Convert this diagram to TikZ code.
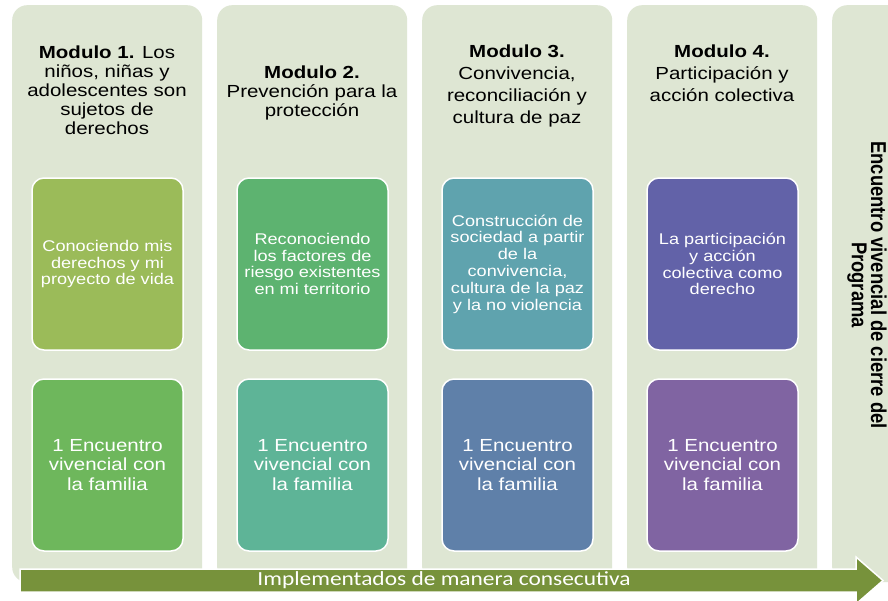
\documentclass[tikz,border=0pt]{standalone}
\usepackage{fontspec}
\setmainfont[FakeStretch=1.17]{Liberation Sans}
\newfontfamily\arrowfont[FakeStretch=1.17]{Carlito}
\newfontfamily\plainsans{Liberation Sans}
\definecolor{colbg}{HTML}{DEE6D3}
\definecolor{ca}{HTML}{9BBB59}
\definecolor{cb}{HTML}{6EB75C}
\definecolor{cc}{HTML}{5DB370}
\definecolor{cd}{HTML}{5EB497}
\definecolor{ce}{HTML}{5FA3AE}
\definecolor{cf}{HTML}{5F80A9}
\definecolor{cg}{HTML}{6262A8}
\definecolor{ch}{HTML}{8064A2}
\definecolor{arrowgreen}{HTML}{77923B}
\tikzset{
  column/.style={fill=colbg, rounded corners=15pt, minimum width=190pt, minimum height=577pt, anchor=north west, inner sep=0pt},
  modbox/.style={draw=white, line width=1.5pt, rounded corners=12pt, minimum width=151pt, minimum height=172pt, inner sep=0pt, align=center, text=white},
  smalltxt/.style={font=\fontsize{15.5}{16.8}\selectfont},
  bigtxt/.style={font=\fontsize{17.5}{19.2}\selectfont},
  head/.style={align=center, inner sep=0pt, text=black},
}
\begin{document}
\begin{tikzpicture}[x=1pt,y=-1pt]
\useasboundingbox (0,0) rectangle (888,600);
\clip (0,0) rectangle (888,600);
\fill[white] (0,0) rectangle (888,600);
% columns
\node[column] (col1) at (12,5) {};
\node[column] (col2) at (217,5) {};
\node[column] (col3) at (422,5) {};
\node[column] (col4) at (627,5) {};
\node[column] (col5) at (832,5) {};
% headers
\node[head, font=\fontsize{17.5}{19}\selectfont] (h1) at (107,90.6) {\textbf{Modulo 1.} Los\\niños, niñas y\\adolescentes son\\sujetos de\\derechos};
\node[head, font=\fontsize{17.5}{19}\selectfont] (h2) at (312,93) {\textbf{Modulo 2.}\\Prevención para la\\protección};
\node[head, font=\fontsize{17.5}{22}\selectfont] (h3) at (517,86.1) {\textbf{Modulo 3.}\\Convivencia,\\reconciliación y\\cultura de paz};
\node[head, font=\fontsize{17.5}{22}\selectfont] (h4) at (722,73.4) {\textbf{Modulo 4.}\\Participación y\\acción colectiva};
% boxes row 1
\node[modbox, smalltxt, fill=ca] (b11) at (107.5,264) {Conociendo mis\\derechos y mi\\proyecto de vida};
\node[modbox, smalltxt, fill=cc] (b21) at (312.5,264) {Reconociendo\\los factores de\\riesgo existentes\\en mi territorio};
\node[modbox, smalltxt, fill=ce] (b31) at (517.5,264) {Construcción de\\sociedad a partir\\de la\\convivencia,\\cultura de la paz\\y la no violencia};
\node[modbox, smalltxt, fill=cg] (b41) at (722.5,264) {La participación\\y acción\\colectiva como\\derecho};
% boxes row 2
\node[modbox, bigtxt, fill=cb] (b12) at (107.5,465) {1 Encuentro\\vivencial con\\la familia};
\node[modbox, bigtxt, fill=cd] (b22) at (312.5,465) {1 Encuentro\\vivencial con\\la familia};
\node[modbox, bigtxt, fill=cf] (b32) at (517.5,465) {1 Encuentro\\vivencial con\\la familia};
\node[modbox, bigtxt, fill=ch] (b42) at (722.5,465) {1 Encuentro\\vivencial con\\la familia};
% closing column text
\node[rotate=-90, inner sep=0pt, font=\plainsans\bfseries\fontsize{18.4}{19.5}\selectfont] (c5t) at (866,285)
  {\scalebox{1}[1.17]{\begin{tabular}{@{}c@{}}Encuentro vivencial de cierre del\\[-3pt]Programa\end{tabular}}};
% arrow
\fill[arrowgreen, draw=white, line width=1.5pt] (20,569) -- (856,569) -- (856,557) -- (883,580.5) -- (856,604) -- (856,592) -- (20,592) -- cycle;
\node[inner sep=0pt, text=white, font=\arrowfont\fontsize{20}{22}\selectfont] (arrowlabel) at (444,580.5) {Implementados de manera consecutiva};
\end{tikzpicture}
\end{document}
